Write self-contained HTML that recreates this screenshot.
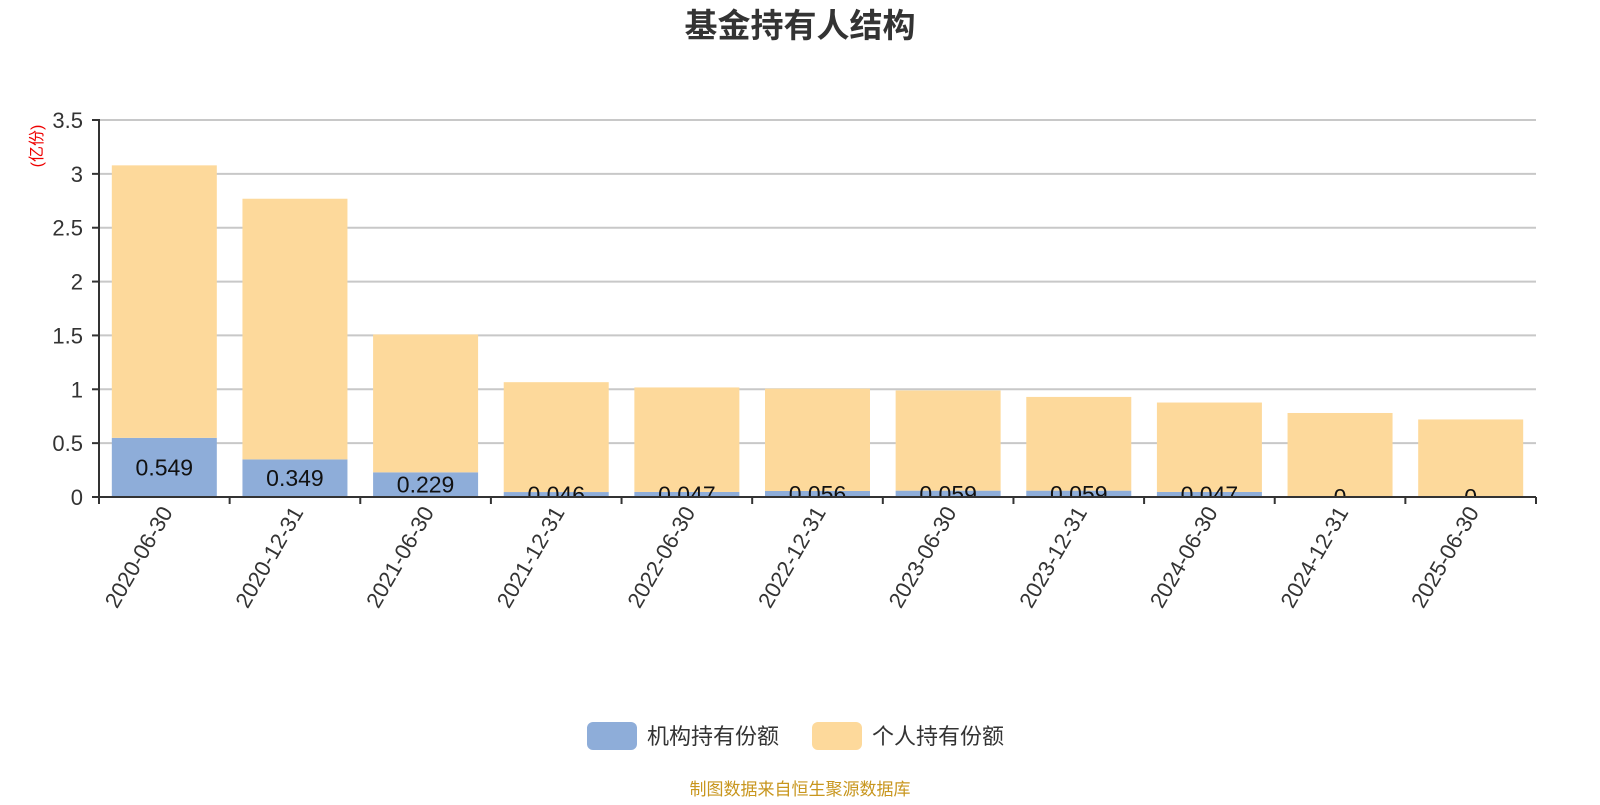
<!DOCTYPE html>
<html><head><meta charset="utf-8"><style>
body{margin:0;background:#fff;}
svg text{font-family:"Liberation Sans","Noto Sans CJK SC",sans-serif;}
</style></head><body>
<svg id="c" width="1600" height="800" xmlns="http://www.w3.org/2000/svg">
<defs><clipPath id="plotclip"><rect x="0" y="0" width="1600" height="496"/></clipPath></defs>
<text x="800" y="37" text-anchor="middle" font-size="33" font-weight="bold" fill="#333">基金持有人结构</text>
<text transform="translate(42,146) rotate(-90)" text-anchor="middle" font-size="16" fill="#e00">(亿份)</text>
<g id="grid"></g><g id="bars"></g><g id="labels" clip-path="url(#plotclip)"></g><g id="axes"></g>
<g>
<rect x="587" y="722" width="50" height="28" rx="6" fill="#8eadd9"/>
<text x="647" y="744" font-size="22" fill="#333">机构持有份额</text>
<rect x="812" y="722" width="50" height="28" rx="6" fill="#fdd99b"/>
<text x="872" y="744" font-size="22" fill="#333">个人持有份额</text>
</g>
<text x="800" y="795" text-anchor="middle" font-size="17" fill="#c8961e">制图数据来自恒生聚源数据库</text>
</svg>
<script>
const categories=["2020-06-30","2020-12-31","2021-06-30","2021-12-31","2022-06-30","2022-12-31","2023-06-30","2023-12-31","2024-06-30","2024-12-31","2025-06-30"];
const institution=[0.549,0.349,0.229,0.046,0.047,0.056,0.059,0.059,0.047,0,0];
const individual=[2.53,2.42,1.28,1.02,0.97,0.95,0.93,0.87,0.83,0.78,0.72];
const yTicks=[0,0.5,1,1.5,2,2.5,3,3.5];
const NS="http://www.w3.org/2000/svg";
const x0=99,x1=1536,y0=497,yTop=120,yMax=3.5;
const band=(x1-x0)/categories.length;
const Y=v=>y0-(v/yMax)*(y0-yTop);
const X=i=>x0+band*i+band/2;
function mk(t,a,p){const e=document.createElementNS(NS,t);for(const k in a)e.setAttribute(k,a[k]);p.appendChild(e);return e;}
const grid=document.getElementById('grid'),bars=document.getElementById('bars'),axes=document.getElementById('axes'),labels=document.getElementById('labels');
yTicks.forEach(v=>{
 if(v>0){const l=mk('line',{x1:x0,x2:x1,y1:Y(v),y2:Y(v),stroke:'#c8c8c8','stroke-width':2},grid);
 
 }
 const tk=mk('line',{x1:x0-7,x2:x0,y1:Y(v),y2:Y(v),stroke:'#333','stroke-width':2},axes);
 
 
 const t=mk('text',{x:x0-16,y:Y(v)+8,'text-anchor':'end','font-size':22,fill:'#333'},axes);t.textContent=v;
 
 
});
const bw=105;
categories.forEach((c,i)=>{
 const cx=X(i);
 const yi=Y(institution[i]),yp=Y(institution[i]+individual[i]);
 const r1=mk('rect',{x:cx-bw/2,y:yi,width:bw,height:y0-yi,fill:'#8eadd9'},bars);
 
 
 const r2=mk('rect',{x:cx-bw/2,y:yp,width:bw,height:yi-yp,fill:'#fdd99b'},bars);
 
 
 const lt=mk('text',{x:cx,y:(yi+y0)/2+8,'text-anchor':'middle','font-size':23,fill:'#111'},labels);lt.textContent=institution[i];
 
 
 const tk=mk('line',{x1:x0+band*i,x2:x0+band*i,y1:y0,y2:y0+7,stroke:'#333','stroke-width':2},axes);
 
 
 const t=mk('text',{transform:`translate(${cx+9},${y0+15}) rotate(-60)`,'text-anchor':'end','font-size':22,fill:'#333'},axes);t.textContent=c;
 
 
});
const lt=mk('line',{x1:x1,x2:x1,y1:y0,y2:y0+7,stroke:'#333','stroke-width':2},axes);


const ya=mk('line',{x1:x0,x2:x0,y1:yTop-1,y2:y0,stroke:'#333','stroke-width':2},axes);


const xa=mk('line',{x1:x0,x2:x1,y1:y0,y2:y0,stroke:'#333','stroke-width':2},axes);


</script>
</body></html>
